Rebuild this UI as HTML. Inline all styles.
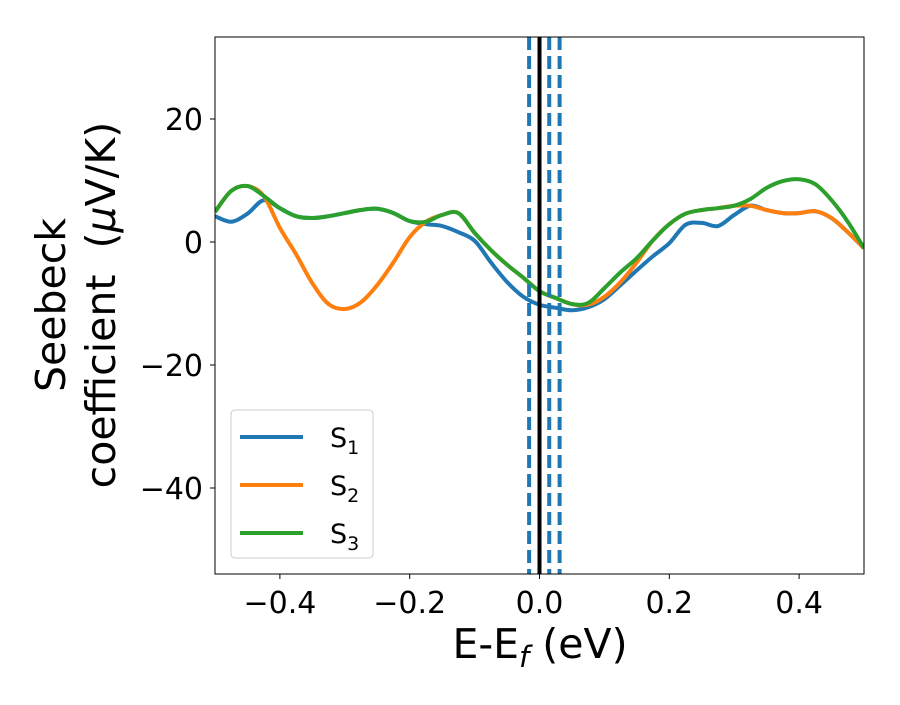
<!DOCTYPE html>
<html><head><meta charset="utf-8"><style>
body{margin:0;background:#fff;}
svg text{font-family:"DejaVu Sans","Liberation Sans",sans-serif;fill:#000;white-space:pre;}
</style></head><body>
<svg id="chart" width="900" height="700" xmlns="http://www.w3.org/2000/svg">
<g id="plot"></g>
</svg>
<script>
const energies = Array.from({length:41},(_,i)=>-0.5+i*0.025);
const s1 = [4.2,3.3,4.6,6.8,5.5,4.2,3.9,4.2,4.7,5.2,5.4,4.7,3.4,2.9,2.6,1.6,0.2,-3.3,-6.5,-8.9,-10.2,-10.7,-11.1,-10.6,-9.3,-7.0,-4.6,-2.3,-0.2,2.8,3.1,2.6,4.4,5.9,5.2,4.7,4.7,5.0,3.9,1.6,-1.0];
const s2 = [4.9,8.3,9.1,7.5,2.3,-2.0,-6.7,-10.1,-10.9,-9.8,-7.0,-3.3,0.8,3.3,4.4,4.7,1.5,-1.3,-3.7,-5.8,-8.0,-9.1,-10.1,-10.2,-8.9,-6.5,-3.3,0.3,2.9,4.6,5.2,5.5,5.9,5.9,5.2,4.7,4.7,5.0,3.9,1.6,-1.0];
const s3 = [4.9,8.3,9.1,7.5,5.5,4.2,3.9,4.2,4.7,5.2,5.4,4.7,3.4,3.3,4.4,4.7,1.5,-1.3,-3.7,-5.8,-8.0,-9.1,-10.1,-9.9,-7.5,-4.9,-2.6,0.3,2.9,4.6,5.2,5.5,5.9,7.0,8.8,9.9,10.2,9.4,6.8,3.3,-1.0];
const seriesNames = ["S1","S2","S3"];
const seriesColors = ["#1f77b4","#ff7f0e","#2ca02c"];
const xTicks = [-0.4,-0.2,0.0,0.2,0.4];
const xTickLabels = ["\u22120.4","\u22120.2","0.0","0.2","0.4"];
const yTicks = [20,0,-20,-40];
const yTickLabels = ["20","0","\u221220","\u221240"];
const dashedLines = [-0.016,0.015,0.031];
const fermiLine = [0];

const L=215,R=864,T=37,B=574;
const xMin=-0.5,xMax=0.5;
const X=v=>L+(v-xMin)/(xMax-xMin)*(R-L);
const Y=v=>242-v*6.15;
const NS="http://www.w3.org/2000/svg";
const g=document.getElementById('plot');
function mk(t,a){const e=document.createElementNS(NS,t);for(const k in a)e.setAttribute(k,a[k]);g.appendChild(e);return e;}
function smooth(pts){let d=`M${pts[0][0]},${pts[0][1]}`;for(let i=0;i<pts.length-1;i++){const p0=pts[Math.max(0,i-1)],p1=pts[i],p2=pts[i+1],p3=pts[Math.min(pts.length-1,i+2)];const c1=[p1[0]+(p2[0]-p0[0])/6,p1[1]+(p2[1]-p0[1])/6],c2=[p2[0]-(p3[0]-p1[0])/6,p2[1]-(p3[1]-p1[1])/6];d+=`C${c1[0]},${c1[1]} ${c2[0]},${c2[1]} ${p2[0]},${p2[1]}`;}return d;}

const cp=mk('clipPath',{id:'clip'});const cr=document.createElementNS(NS,'rect');cr.setAttribute('x',L);cr.setAttribute('y',T);cr.setAttribute('width',R-L);cr.setAttribute('height',B-T);cp.appendChild(cr);

[s1,s2,s3].forEach((s,k)=>{
  const p=mk('path',{d:smooth(energies.map((e,i)=>[X(e),Y(s[i])])),fill:'none',stroke:seriesColors[k],'stroke-width':4,'clip-path':'url(#clip)'});
  
  
});
dashedLines.forEach(v=>{
  const l=mk('line',{x1:X(v),x2:X(v),y1:T,y2:B,stroke:'#1f77b4','stroke-width':4,'stroke-dasharray':'13 6'});
  
  
});
fermiLine.forEach(v=>{
  const l=mk('line',{x1:X(v),x2:X(v),y1:T,y2:B,stroke:'#000','stroke-width':4});
  
  
});
const fr=mk('rect',{x:L,y:T,width:R-L,height:B-T,fill:'none',stroke:'#000','stroke-width':1});


xTicks.forEach((v,i)=>{
  mk('line',{x1:X(v),x2:X(v),y1:B,y2:B+5,stroke:'#000'});
  const t=mk('text',{x:X(v),y:B+39,'font-size':30,'text-anchor':'middle'});t.textContent=xTickLabels[i];
  
  
});
yTicks.forEach((v,i)=>{
  mk('line',{x1:L-5,x2:L,y1:Y(v),y2:Y(v),stroke:'#000'});
  const t=mk('text',{x:L-12,y:Y(v)+11,'font-size':30,'text-anchor':'end'});t.textContent=yTickLabels[i];
  
  
});
</script>
<svg style="position:absolute;left:0;top:0" width="900" height="700" xmlns="http://www.w3.org/2000/svg">
<text x="540" y="658" font-size="41" text-anchor="middle">E-E<tspan font-size="29" dy="9" font-style="italic">f</tspan><tspan dy="-9"> (eV)</tspan></text>
<g transform="translate(0,305) rotate(-90)">
<text x="0" y="65" font-size="41" text-anchor="middle">Seebeck</text>
<text x="0" y="115" font-size="41" text-anchor="middle">coefficient&#160;&#160;(<tspan font-style="italic">μ</tspan>V/K)</text>
</g>
<g>
<rect x="231" y="410" width="142" height="148" rx="4" fill="#fff" fill-opacity="0.8" stroke="#ccc"/>
<g><line x1="240" x2="303" y1="437" y2="437" stroke="#1f77b4" stroke-width="4"/><text x="330" y="447" font-size="27">S<tspan font-size="19" dy="7">1</tspan></text></g>
<g><line x1="240" x2="303" y1="485" y2="485" stroke="#ff7f0e" stroke-width="4"/><text x="330" y="495" font-size="27">S<tspan font-size="19" dy="7">2</tspan></text></g>
<g><line x1="240" x2="303" y1="533" y2="533" stroke="#2ca02c" stroke-width="4"/><text x="330" y="543" font-size="27">S<tspan font-size="19" dy="7">3</tspan></text></g>
</g>
</svg>
</body></html>
